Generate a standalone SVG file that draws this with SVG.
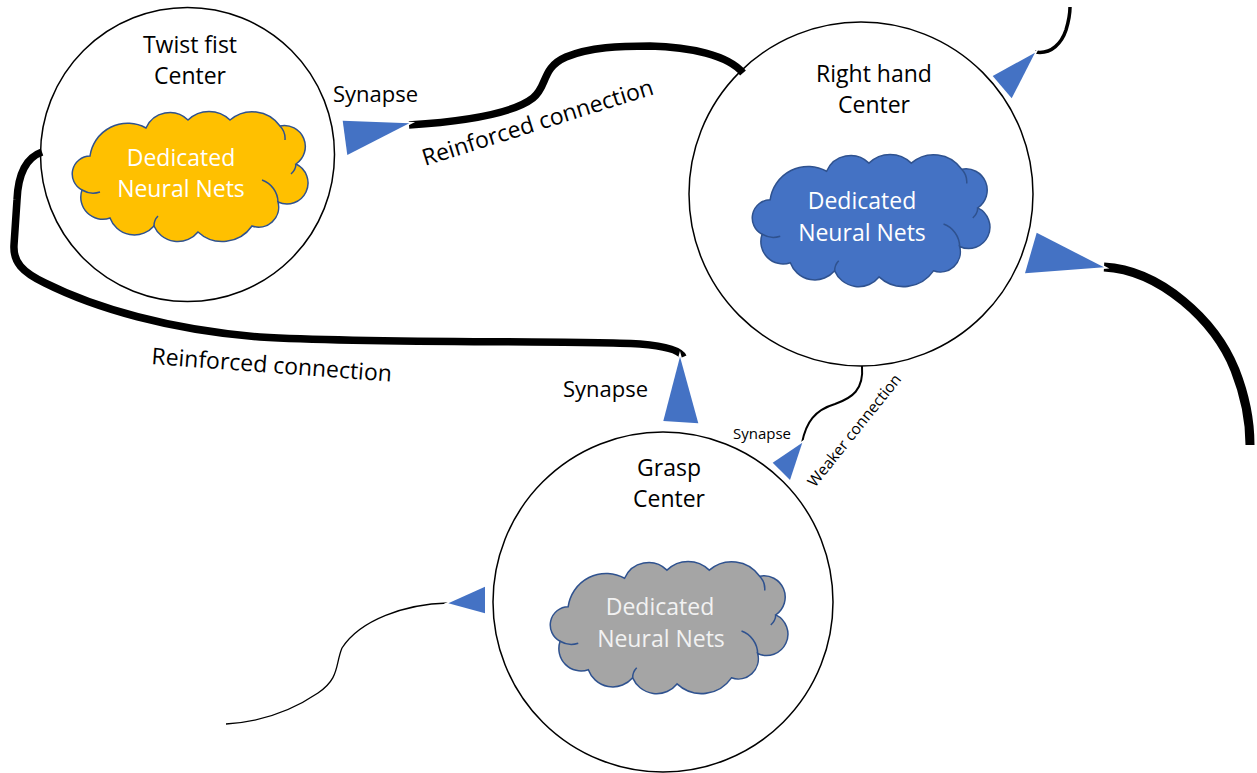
<svg xmlns="http://www.w3.org/2000/svg" width="1257" height="773" viewBox="0 0 1257 773">
  <defs>
    <style>
      .ring{fill:#fff;stroke:#000;stroke-width:1.5}
      .cloud{stroke:#2F528F;stroke-width:1.5}
      .crease{fill:none;stroke:#2F528F;stroke-width:1.5}
      .txt{font-family:"Open Sans","Liberation Sans",sans-serif}
      .title{font-size:23px;fill:#000;text-anchor:middle}
      .inner{font-size:23px;fill:#fff;text-anchor:middle}
      .label{font-size:22px;fill:#000}
      .small{font-size:15px;fill:#000}
      .syn{fill:#4472C4;stroke:#fff;stroke-width:3;paint-order:stroke}
      .wire{fill:none;stroke:#000;stroke-linecap:butt}
    </style>
    <!-- cloud outline in a 240x128 local box -->
    <path id="cloud-shape" d="M20,44 A38,38 0 0 1 76,16 A26,26 0 0 1 118,8 A30,30 0 0 1 160,8 A34,34 0 0 1 210,14 A21,21 0 0 1 226,52 A21,21 0 0 1 208,90 A20,20 0 0 1 182,114 A36,36 0 0 1 128,120 A26,26 0 0 1 84,114 A26,26 0 0 1 40,106 A22,22 0 0 1 12,78 A18,18 0 0 1 20,44 Z"/>
    <path id="cloud-crease" d="M12,78 A22,22 0 0 0 30,80 M208,90 A24,24 0 0 0 192,68 M210,14 A18,18 0 0 1 215,28 M84,114 A14,14 0 0 1 88,104 M226,52 A14,14 0 0 1 221,62"/>
  </defs>

  <rect width="1257" height="773" fill="#fff"/>

  <!-- Twist fist centre -->
  <g id="twist-fist">
    <circle class="ring" cx="187.5" cy="154.5" r="147"/>
    <g transform="translate(70,112)">
      <use href="#cloud-shape" class="cloud" fill="#FFC000"/>
      <use href="#cloud-crease" class="crease"/>
    </g>
    <text class="txt title" x="190" y="53">Twist fist</text>
    <text class="txt title" x="190" y="84">Center</text>
    <text class="txt inner" x="181" y="166">Dedicated</text>
    <text class="txt inner" x="181" y="197">Neural Nets</text>
  </g>

  <!-- Right hand centre -->
  <g id="right-hand">
    <circle class="ring" cx="861" cy="194" r="172"/>
    <g transform="translate(750,155) scale(1.008,1.016)">
      <use href="#cloud-shape" class="cloud" fill="#4472C4"/>
      <use href="#cloud-crease" class="crease"/>
    </g>
    <text class="txt title" x="874" y="82">Right hand</text>
    <text class="txt title" x="874" y="113">Center</text>
    <text class="txt inner" x="862" y="209">Dedicated</text>
    <text class="txt inner" x="862" y="241">Neural Nets</text>
  </g>

  <!-- Grasp centre -->
  <g id="grasp">
    <circle class="ring" cx="663" cy="602" r="170"/>
    <g transform="translate(548,562) scale(1.008,1.016)">
      <use href="#cloud-shape" class="cloud" fill="#A5A5A5"/>
      <use href="#cloud-crease" class="crease"/>
    </g>
    <text class="txt title" x="669" y="476">Grasp</text>
    <text class="txt title" x="669" y="507">Center</text>
    <text class="txt inner" x="660" y="615" style="fill:#F2F2F2">Dedicated</text>
    <text class="txt inner" x="661" y="647" style="fill:#F2F2F2">Neural Nets</text>
  </g>

  <!-- connections and synapses -->
  <g id="connectors">
    <path class="wire" stroke-width="7.5" d="M409,125 C470,121 515,112 533,98 C548,86 541,68 566,57 C590,47 620,46 650,46 C690,47 728,55 743,73"/>
    <path class="wire" stroke-width="7.5" d="M42,152 C25,158 18,175 17,200 L14,245 C13,262 22,272 45,283 C95,308 170,330 260,337 C380,344 560,340 640,344 C665,346 680,350 683,357"/>
    <path class="wire" stroke-width="9" d="M1104,267 C1160,270 1215,320 1235,370 C1246,398 1250,420 1250,445"/>
    <path class="wire" stroke-width="3.5" d="M1035,52 C1052,55 1062,42 1066,30 C1069,20 1070,12 1070,7"/>
    <path class="wire" stroke-width="2" d="M862,366 C864,390 852,398 835,404 C815,410 806,422 802,443"/>
    <path class="wire" stroke="#404040" stroke-width="1.3" d="M448,603 C405,604 360,620 342,648 C335,665 340,678 318,693 C290,712 260,722 226,724"/>

    <polygon class="syn" points="342.7,120.7 347.3,155 409.3,123.3"/>
    <polygon class="syn" points="992.7,76 1011.7,98.3 1035,52.7"/>
    <polygon class="syn" points="1036.7,232.7 1025,273.3 1104,267.3"/>
    <polygon class="syn" points="680,356.7 663.3,421 698.3,423.3"/>
    <polygon class="syn" points="802.3,442.7 772.7,462.7 790,480"/>
    <polygon class="syn" points="448.3,603.3 485,586.7 485,613.3"/>
  </g>

  <!-- connection labels -->
  <g id="labels">
    <text class="txt label" x="333" y="102">Synapse</text>
    <text class="txt label" x="563" y="397">Synapse</text>
    <text class="txt small" x="733" y="439">Synapse</text>
    <text class="txt label" x="425" y="166" transform="rotate(-17.4 425 166)" style="font-size:23px">Reinforced connection</text>
    <text class="txt label" x="151" y="364" transform="rotate(4.2 151 364)" style="font-size:23px">Reinforced connection</text>
    <text class="txt small" x="815" y="488" transform="rotate(-51.3 815 488)" style="font-size:15.5px">Weaker connection</text>
  </g>
</svg>
